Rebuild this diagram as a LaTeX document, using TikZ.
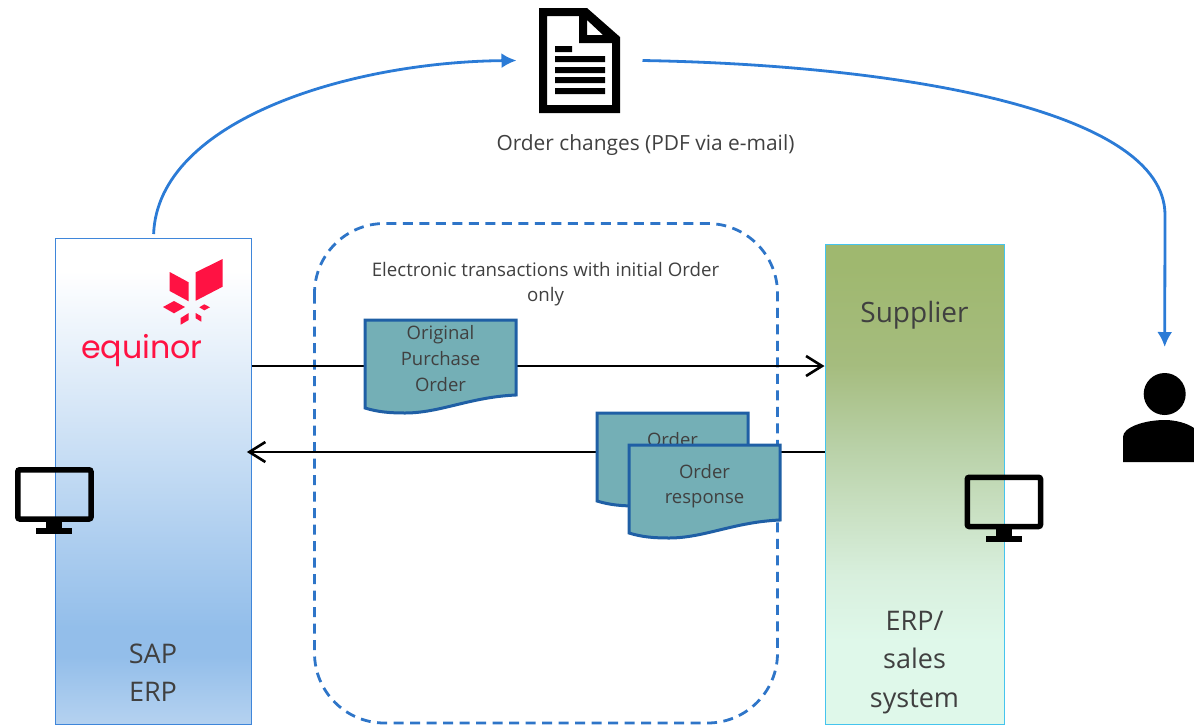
\documentclass[tikz,border=0pt]{standalone}
\usepackage{fontspec}
\setmainfont{Open Sans}
\newfontfamily\logofont{Poppins}
\usetikzlibrary{arrows.meta}
\definecolor{sapdeep}{HTML}{93BEEA}
\definecolor{sapfoot}{HTML}{B5D2F0}
\definecolor{supdeep}{HTML}{9FB86F}
\definecolor{supa}{HTML}{A5BC7E}
\definecolor{supb}{HTML}{B8D0A6}
\definecolor{supc}{HTML}{C9E0C2}
\definecolor{supd}{HTML}{D8EFDD}
\definecolor{supfoot}{HTML}{DFF8EA}
\definecolor{flowblue}{HTML}{2B7BD6}
\definecolor{dashblue}{HTML}{2E75C8}
\definecolor{docfill}{HTML}{74AFB6}
\definecolor{docedge}{HTML}{1F5FA5}
\definecolor{inktext}{HTML}{404040}
\definecolor{logored}{HTML}{FF1243}
\pgfdeclareverticalshading{sapfade}{100bp}{color(0bp)=(sapfoot);color(25bp)=(sapfoot);color(32bp)=(sapdeep);color(35bp)=(sapdeep);color(71.7bp)=(white);color(100bp)=(white)}
\pgfdeclareverticalshading{supfade}{100bp}{color(0bp)=(supfoot);color(33.6bp)=(supfoot);color(40.5bp)=(supd);color(47.3bp)=(supc);color(54.2bp)=(supb);color(62.5bp)=(supa);color(72.8bp)=(supdeep);color(100bp)=(supdeep)}
\tikzset{
	sapbox/.style={shading=sapfade,draw={rgb,255:red,63;green,134;blue,218},line width=1.4pt,anchor=north west,minimum width=195.5,minimum height=486,inner sep=0},
	supbox/.style={shading=supfade,draw={rgb,255:red,69;green,196;blue,238},line width=1.4pt,anchor=north west,minimum width=179,minimum height=480.5,inner sep=0},
	bigtext/.style={text=inktext,align=center,font=\fontsize{27}{38.5}\selectfont,inner sep=0},
	smalltext/.style={text=inktext,align=center,font=\fontsize{18.5}{25.6}\selectfont,inner sep=0},
	docline/.style={draw=docedge,fill=docfill,line width=3pt},
	flowline/.style={draw=flowblue,line width=2.8pt,-{Latex[length=15pt,width=15pt]}},
	msgline/.style={draw=black,line width=2.8pt,-{Straight Barb[length=16pt,width=20pt,line width=2.6pt]}},
	screen/.pic={
		\draw[black,line width=5.5pt,rounded corners=2pt] (2.75,2.75) rectangle (76,52);
		\fill[black] (31,54) rectangle (47,62);
		\fill[black] (21,61) rectangle (57,67);
	}
}
\newcommand{\orderdoc}[2]{
	\draw[docline] (#1,#2)--++(151,0)--++(0,75)
		.. controls ++(-46,2) and ++(35,0) .. ++(-111,18)
		.. controls ++(-15,0) and ++(13,4) .. ++(-40,-5)--cycle;
}
\begin{document}
\begin{tikzpicture}[x=1pt,y=-1pt]
	\useasboundingbox (0,0) rectangle (1194,724);
	\node[sapbox] at (55,238)(sap){};
	\node[supbox] at (824.5,243.5)(sup){};
	\node[bigtext] at (153,672.5)(saptext){SAP\\ERP};
	\node[bigtext,font=\fontsize{28}{38.5}\selectfont] at (914.5,315)(suptext){Supplier};
	\node[bigtext] at (914.5,662.5)(erptext){ERP/\\sales\\system};
	\node[text=logored,font=\logofont\fontsize{31.7}{32}\selectfont,inner sep=0] at (142,351)(logotext){equinor};
	\fill[logored]
		(195.7,272.3)--(222.7,259)--(222.7,286.7)--(195.7,300.7)--cycle
		(169.7,272)--(188.7,282.3)--(188.7,301.3)--(169.7,291)--cycle
		(163,307)--(174,301)--(185,307)--(174,313.3)--cycle
		(199.3,307.3)--(204.3,304.3)--(210,307.3)--(204.3,310.3)--cycle
		(180.7,318)--(188.7,313)--(188.7,320)--(180.7,324.7)--cycle
		(195.7,313)--(201.3,316.3)--(201.3,321.7)--(195.7,318.3)--cycle;

	\draw[dashblue,line width=2.8pt,dash pattern=on 10pt off 6.5pt,rounded corners=70] (314.5,223.5) rectangle (777.5,723);
	\node[smalltext,font=\fontsize{18.7}{25.6}\selectfont] at (545.5,284)(elec){Electronic transactions with initial Order\\only};

	\coordinate (rowa) at (0,366);
	\coordinate (rowb) at (0,452);
	\draw[msgline] (sap.east|-rowa)--(sup.west|-rowa);
	\draw[msgline,shorten >=-5pt] (sup.west|-rowb)--(sap.east|-rowb);

	\orderdoc{365}{320}
	\node[smalltext] at (440.5,358.5)(orig){Original\\Purchase\\Order};
	\orderdoc{597}{413}
	\node[smalltext] at (672.5,440)(backtext){Order};
	\orderdoc{629}{445}
	\node[smalltext] at (704.5,486)(resp){Order\\response};

	\pic at (15,467){screen};
	\pic at (964.5,474.5){screen};

	% mail icon
	\node[minimum width=126,minimum height=105,inner sep=0,outer sep=0] at (579.5,60.5)(mail){};
	\fill[black,even odd rule]
		(539,8)--(587,8)--(620,37)--(620,113)--(539,113)--cycle
		(547,16)--(579,16)--(579,43)--(612,43)--(612,105)--(547,105)--cycle
		(587,20)--(587,35)--(603,35)--cycle;
	\fill[black]
		(555,46) rectangle (572,52)
		(555,56) rectangle (605,62)
		(555,67) rectangle (605,73)
		(555,77) rectangle (605,83)
		(555,88) rectangle (605,94);
	\node[smalltext,font=\fontsize{20.9}{24}\selectfont] at (645.5,145)(mailtext){Order changes (PDF via e-mail)};

	% person
	\node[circle,fill=black,minimum size=42,inner sep=0] at (1164.7,394)(head){};
	\fill[black] (1123,462)--(1123,437) .. controls (1123,427) and (1145,420) .. (1165,420)
		.. controls (1175,420) and (1187,423) .. (1194,428)--(1194,462)--cycle;
	\coordinate (person) at (1164.7,347);

	\draw[flowline,shorten <=4pt] (sap.north) .. controls (158,120) and (350,62) .. (mail.west);
	\draw[flowline] (mail.east) .. controls (900,65) and (1165,110) .. (1165,215)--(person);
\end{tikzpicture}
\end{document}
